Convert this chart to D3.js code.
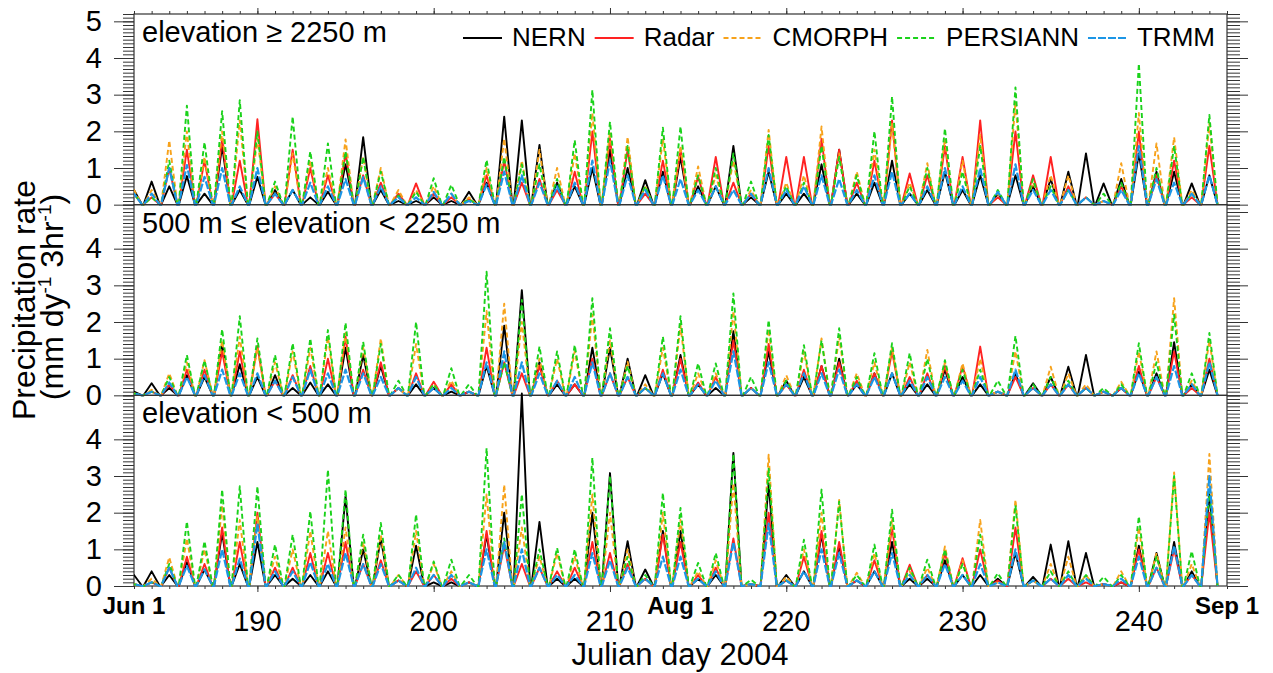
<!DOCTYPE html>
<html>
<head>
<meta charset="utf-8">
<script src="https://d3js.org/d3.v7.min.js"></script>
<style>
  body { margin: 0; background: #fff; }
  text { font-family: "Liberation Sans", Arial, Helvetica, sans-serif; fill: #000; }
</style>
</head>
<body>
<div id="chart"></div>
<script>
// daily peak precipitation rate, one value per day, starting at day 183 (Jun 1)
var firstDay = 183;

// elevation >= 2250 m
var nernHigh     = [0.4,0.63,0.5,0.78,0.3,1.6,0.4,0.76,0.4,0.4, 0.2,0.35,1.1,1.84,0.4,0.1,0.1,0.2,0.1,0.35, 0.6,2.4,2.3,1.63,0.6,0.5,1.0,1.5,1.0,0.67, 0.9,1.3,0.5,0.5,1.6,0.2,0.9,0.3,0.3,1.1, 1.5,0.3,0.6,1.2,0.3,0.4,0.9,0.4,0.8,0.3, 0.8,0.5,0.7,0.9,1.4,0.58,0.7,1.4,0.9,0.9, 0.58,0.8];
var radarHigh    = [0.3,0.2,1.0,1.5,1.2,1.8,1.2,2.33,0.3,1.5, 1.0,0.8,1.4,0.8,0.6,0.3,0.58,0.3,0.2,0.15, 0.8,1.2,0.6,0.7,0.4,0.9,2.0,1.8,1.5,0.3, 1.2,1.5,0.76,1.3,0.6,0.3,1.6,1.3,1.3,1.8, 1.5,0.6,1.2,2.3,0.85,0.8,1.6,1.3,2.3,0.2, 2.0,0.8,1.3,0.5,0.2,0.1,0.5,2.0,0.8,1.2, 0.2,1.6];
var cmorphHigh   = [0.4,0.4,1.75,2.0,1.3,2.0,2.3,1.8,0.5,1.4, 1.2,1.0,1.78,1.3,1.0,0.4,0.4,0.5,0.3,0.2, 1.0,1.8,1.2,1.5,1.0,1.4,2.5,2.0,1.85,0.5, 1.8,1.6,1.04,0.8,1.2,0.4,2.04,0.6,0.8,2.13, 1.4,0.9,1.5,2.2,0.6,1.13,1.8,1.2,1.9,0.3, 2.8,0.6,0.8,0.8,0.2,0.1,1.13,2.5,1.67,1.84, 0.4,2.2];
var persiannHigh = [0.3,0.2,1.2,2.7,1.7,2.55,2.85,2.0,0.63,2.4, 1.45,1.67,1.45,1.3,0.9,0.25,0.35,0.72,0.54,0.15, 1.22,1.3,1.1,1.1,0.7,1.76,3.13,2.26,1.6,0.5, 2.1,2.13,0.8,1.0,1.4,0.63,1.9,0.5,0.6,1.6, 1.3,0.8,2.0,2.95,0.5,1.0,2.08,0.9,1.6,0.4, 3.2,0.7,0.5,0.4,0.2,0.3,0.6,3.85,1.0,1.6, 0.3,2.45];
var trmmHigh     = [0.3,0.3,1.0,1.08,0.76,1.0,0.5,1.0,0.3,0.4, 0.6,0.5,0.7,0.75,0.5,0.2,0.2,0.35,0.3,0.1, 0.55,0.9,0.8,0.6,0.5,0.6,1.2,1.2,0.8,0.4, 0.8,0.7,0.4,0.5,0.4,0.3,1.0,0.4,0.5,0.8, 0.7,0.4,0.8,0.9,0.3,0.5,1.0,0.5,1.0,0.35, 1.1,0.4,0.4,0.4,0.2,0.1,0.4,1.6,0.7,0.6, 0.3,0.8];

// 500 m <= elevation < 2250 m
var nernMid     = [0.1,0.33,0.2,0.55,0.5,1.4,0.85,0.5,0.55,0.2, 0.35,0.3,1.3,1.1,0.8,0.2,0.3,0.2,0.1,0.1, 0.8,1.9,2.87,0.9,0.3,0.3,1.3,1.3,1.0,0.55, 0.6,1.1,0.3,0.2,1.75,0.2,1.2,0.4,0.5,0.8, 1.0,0.3,0.6,0.6,0.3,0.3,0.7,0.5,0.3,0.1, 0.6,0.33,0.5,0.78,1.1,0.1,0.2,0.65,0.6,1.45, 0.3,0.7];
var radarMid    = [0.05,0.1,0.3,0.7,0.7,1.2,1.2,1.35,0.4,0.55, 0.8,1.0,1.6,0.7,0.9,0.2,0.6,0.37,0.3,0.1, 1.3,0.9,0.6,0.8,0.4,0.3,1.0,0.6,0.5,0.2, 0.7,1.0,0.35,0.5,1.5,0.2,1.4,0.3,0.7,0.8, 0.9,0.4,0.6,1.2,0.5,0.6,0.8,0.8,1.33,0.1, 0.5,0.2,0.3,0.3,0.2,0.1,0.2,0.8,0.5,1.2, 0.2,1.0];
var cmorphMid   = [0.05,0.15,0.6,0.9,0.96,1.5,1.6,1.3,0.9,1.2, 1.3,1.6,1.7,1.3,1.55,0.2,1.4,0.3,0.4,0.1, 2.3,2.5,2.0,1.0,1.0,1.2,2.2,1.5,0.92,0.3, 1.3,1.9,0.6,0.6,2.3,0.2,1.8,0.55,1.2,1.55, 1.6,0.6,0.9,1.3,0.9,1.24,0.9,0.87,1.0,0.1, 1.2,0.2,0.78,0.6,0.3,0.1,0.37,1.2,1.2,2.65, 0.4,1.5];
var persiannMid = [0.05,0.1,0.5,1.1,0.95,1.8,2.16,1.55,1.1,1.42, 1.55,1.78,1.98,1.46,1.4,0.4,2.0,0.3,0.74,0.3, 3.37,0.9,2.6,1.33,1.2,1.37,2.65,1.83,0.8,0.2, 1.6,2.16,0.87,0.87,2.78,0.5,2.05,0.4,1.37,1.5, 1.83,0.5,1.15,1.42,1.15,1.0,0.96,0.7,0.7,0.4, 1.62,0.3,0.5,0.4,0.2,0.2,0.3,1.42,0.9,2.2, 0.6,1.7];
var trmmMid     = [0.05,0.1,0.35,0.5,0.55,0.7,0.6,0.6,0.4,0.5, 0.7,0.6,0.7,0.6,0.5,0.2,0.5,0.2,0.2,0.1, 0.9,1.2,0.9,0.6,0.4,0.5,0.9,0.6,0.5,0.2, 0.6,0.7,0.3,0.4,1.2,0.2,0.9,0.3,0.6,0.6, 0.7,0.3,0.5,0.6,0.4,0.5,0.5,0.4,0.5,0.1, 0.7,0.2,0.3,0.3,0.2,0.1,0.2,0.6,0.5,0.8, 0.3,0.9];

// elevation < 500 m
var nernLow     = [0.3,0.4,0.3,0.65,0.45,1.45,0.6,1.2,0.3,0.2, 0.3,0.4,2.45,1.0,1.3,0.15,1.1,0.1,0.1,0.1, 1.4,2.0,5.25,1.75,0.2,0.2,2.0,3.08,1.22,0.45, 1.5,1.5,0.2,0.3,3.63,0.05,2.8,0.3,0.4,1.4, 1.1,0.15,0.4,1.2,0.2,0.2,0.7,0.3,0.3,0.2, 0.9,0.25,1.13,1.22,0.9,0.05,0.1,1.1,0.9,1.2, 0.4,2.5];
var radarLow    = [0.05,0.1,0.5,0.8,0.6,1.6,1.2,2.0,0.5,0.5, 0.9,0.9,1.2,0.6,0.7,0.15,0.4,0.3,0.2,0.1, 1.5,1.1,0.6,0.5,0.4,0.5,1.2,0.9,0.6,0.2, 1.4,1.2,0.3,0.5,1.3,0.05,2.0,0.15,0.8,1.5, 1.2,0.15,0.7,1.6,0.58,0.3,0.9,0.76,1.0,0.15, 1.6,0.15,0.2,0.2,0.1,0.05,0.1,1.0,0.5,1.0, 0.3,2.0];
var cmorphLow   = [0.05,0.2,0.78,1.3,1.0,2.2,1.8,1.9,0.8,1.0, 1.5,1.5,1.6,1.2,1.4,0.3,1.5,0.6,0.4,0.1, 2.5,2.76,1.6,0.8,0.9,0.8,2.5,2.0,1.0,0.2, 2.0,1.8,0.4,0.7,2.8,0.05,3.58,0.25,1.0,2.0, 2.35,0.36,0.9,1.8,0.4,0.5,1.08,0.7,1.8,0.1, 2.35,0.15,0.6,0.8,0.3,0.05,0.4,1.6,0.9,3.1, 0.6,3.6];
var persiannLow = [0.05,0.1,0.6,1.76,1.22,2.63,2.72,2.72,1.13,1.4, 2.04,3.17,2.63,1.4,1.72,0.31,1.95,0.67,0.72,0.3, 3.76,1.3,2.5,1.0,1.04,1.0,3.5,3.0,0.8,0.3, 2.54,2.13,0.63,0.9,3.6,0.17,3.2,0.15,1.26,2.63, 2.3,0.3,1.13,2.08,0.5,0.72,1.0,0.6,1.4,0.35, 2.2,0.15,0.4,0.4,0.3,0.25,0.3,1.9,0.8,3.0, 0.95,2.6];
var trmmLow     = [0.05,0.1,0.5,0.55,0.45,1.0,0.75,1.7,0.4,0.4, 0.65,0.6,0.9,0.6,0.6,0.15,0.5,0.3,0.3,0.1, 1.0,1.2,1.0,0.5,0.3,0.3,0.9,0.7,0.5,0.2, 0.8,0.8,0.2,0.4,1.2,0.05,1.7,0.15,0.4,1.0, 0.9,0.15,0.4,0.9,0.3,0.3,0.6,0.3,0.6,0.1, 1.0,0.15,0.2,0.3,0.2,0.05,0.2,0.8,0.5,1.1, 0.3,3.0];

var panelTitles = ["elevation \u2265 2250 m", "500 m \u2264 elevation < 2250 m", "elevation < 500 m"];
var seriesNames = ["NERN", "Radar", "CMORPH", "PERSIANN", "TRMM"];
var seriesColors = ["#000000", "#ff2222", "#f7a21b", "#1ad21a", "#1c96e6"];
var seriesDash = [null, null, "5,3", "5,3", "8,2"];
var seriesWidth = [1.9, 1.9, 1.9, 1.9, 2.2];
var yTicksTop = [0, 1, 2, 3, 4, 5];
var yTicksLower = [0, 1, 2, 3, 4];
var dayTicks = [190, 200, 210, 220, 230, 240];
var monthDays = [183, 214, 245];
var monthLabels = ["Jun 1", "Aug 1", "Sep 1"];

var panels = [
  [nernHigh, radarHigh, cmorphHigh, persiannHigh, trmmHigh],
  [nernMid, radarMid, cmorphMid, persiannMid, trmmMid],
  [nernLow, radarLow, cmorphLow, persiannLow, trmmLow]
];

var width = 1273, height = 673;
var left = 134, right = 1227, top0 = 14, panelH = 190.67;
var bottom = top0 + 3 * panelH;

var x = d3.scaleLinear().domain([183, 245]).range([left, right]);

var svg = d3.select("#chart").append("svg")
  .attr("width", width)
  .attr("height", height);

svg.append("rect").attr("width", width).attr("height", height).attr("fill", "#fff");

svg.append("defs").append("clipPath").attr("id", "clip")
  .append("rect")
  .attr("x", left).attr("y", 0)
  .attr("width", right - left).attr("height", height);

var allDays = d3.range(183, 246);
var minorY = d3.range(0, 5.21, 0.1);

function styleAxis(g) {
  g.select(".domain").remove();
  g.selectAll(".tick line").attr("stroke", "#333").attr("stroke-width", 1);
  g.selectAll(".tick text").attr("font-size", 29).attr("fill", "#000")
    .attr("font-family", "Liberation Sans, Arial, sans-serif");
}

panels.forEach(function(series, i) {
  var top = top0 + i * panelH;
  var y = d3.scaleLinear().domain([0, 5.2]).range([top + panelH, top]);

  // frame
  svg.append("rect")
    .attr("x", left).attr("y", top)
    .attr("width", right - left).attr("height", panelH)
    .attr("fill", "none").attr("stroke", "#333").attr("stroke-width", 1.2);

  // left axis, minor + major
  svg.append("g").attr("transform", "translate(" + left + ",0)")
    .call(d3.axisLeft(y).tickValues(minorY).tickSize(11).tickFormat(""))
    .call(styleAxis);
  svg.append("g").attr("transform", "translate(" + left + ",0)")
    .call(d3.axisLeft(y).tickValues(i === 0 ? yTicksTop : yTicksLower).tickSize(20).tickPadding(12).tickFormat(d3.format("d")))
    .call(styleAxis);

  // right axis, no labels
  svg.append("g").attr("transform", "translate(" + right + ",0)")
    .call(d3.axisRight(y).tickValues(minorY).tickSize(13).tickFormat(""))
    .call(styleAxis);
  svg.append("g").attr("transform", "translate(" + right + ",0)")
    .call(d3.axisRight(y).tickValues(yTicksTop).tickSize(21).tickFormat(""))
    .call(styleAxis);

  var line = d3.line()
    .x(function(d) { return x(d[0]); })
    .y(function(d) { return y(d[1]); });

  var g = svg.append("g").attr("clip-path", "url(#clip)");
  series.forEach(function(vals, k) {
    var pts = [];
    vals.forEach(function(v, j) {
      var day = firstDay + j;
      pts.push([day - 0.46, 0], [day, v], [day + 0.46, 0]);
    });
    g.append("path")
      .datum(pts)
      .attr("d", line)
      .attr("fill", "none")
      .attr("stroke", seriesColors[k])
      .attr("stroke-width", seriesWidth[k])
      .attr("stroke-linejoin", "round")
      .attr("stroke-dasharray", seriesDash[k]);
  });

  svg.append("text")
    .attr("x", 142)
    .attr("y", top + 28)
    .attr("font-size", 29)
    .text(panelTitles[i]);
});

// top and bottom day ticks
svg.append("g").attr("transform", "translate(0," + top0 + ")")
  .call(d3.axisTop(x).tickValues(allDays).tickSize(3).tickFormat(""))
  .call(styleAxis);
svg.append("g").attr("transform", "translate(0," + top0 + ")")
  .call(d3.axisTop(x).tickValues(dayTicks).tickSize(6).tickFormat(""))
  .call(styleAxis);
svg.append("g").attr("transform", "translate(0," + bottom + ")")
  .call(d3.axisBottom(x).tickValues(allDays).tickSize(3).tickFormat(""))
  .call(styleAxis);
svg.append("g").attr("transform", "translate(0," + bottom + ")")
  .call(d3.axisBottom(x).tickValues(dayTicks).tickSize(6).tickFormat(""))
  .call(styleAxis);

svg.selectAll(".daylabel")
  .data(dayTicks)
  .enter().append("text")
  .attr("class", "daylabel")
  .attr("x", function(d) { return x(d); })
  .attr("y", 631)
  .attr("text-anchor", "middle")
  .attr("font-size", 29)
  .text(function(d) { return d; });

svg.selectAll(".monthlabel")
  .data(monthDays)
  .enter().append("text")
  .attr("class", "monthlabel")
  .attr("x", function(d) { return x(d); })
  .attr("y", 614)
  .attr("text-anchor", "middle")
  .attr("font-size", 24)
  .attr("font-weight", "bold")
  .text(function(d, i) { return monthLabels[i]; });

// axis titles
svg.append("text")
  .attr("x", 680)
  .attr("y", 665)
  .attr("text-anchor", "middle")
  .attr("font-size", 31)
  .text("Julian day 2004");

svg.append("text")
  .attr("transform", "translate(35,300) rotate(-90)")
  .attr("text-anchor", "middle")
  .attr("font-size", 32)
  .text("Precipitation rate");

var unit = svg.append("text")
  .attr("transform", "translate(63,297) rotate(-90)")
  .attr("text-anchor", "middle")
  .attr("font-size", 32);
unit.append("tspan").text("(mm dy");
unit.append("tspan").attr("font-size", 19).attr("dy", -12).text("-1");
unit.append("tspan").attr("dy", 12).text(" 3hr");
unit.append("tspan").attr("font-size", 19).attr("dy", -12).text("-1");
unit.append("tspan").attr("dy", 12).text(")");

// legend
var lx = 463;
seriesNames.forEach(function(name, k) {
  svg.append("line")
    .attr("x1", lx).attr("x2", lx + 39)
    .attr("y1", 38).attr("y2", 38)
    .attr("stroke", seriesColors[k])
    .attr("stroke-width", 1.9)
    .attr("stroke-dasharray", seriesDash[k]);
  var t = svg.append("text")
    .attr("x", lx + 49)
    .attr("y", 46)
    .attr("font-size", 26)
    .text(name);
  lx = lx + 49 + t.node().getComputedTextLength() + 9;
});
</script>
</body>
</html>
